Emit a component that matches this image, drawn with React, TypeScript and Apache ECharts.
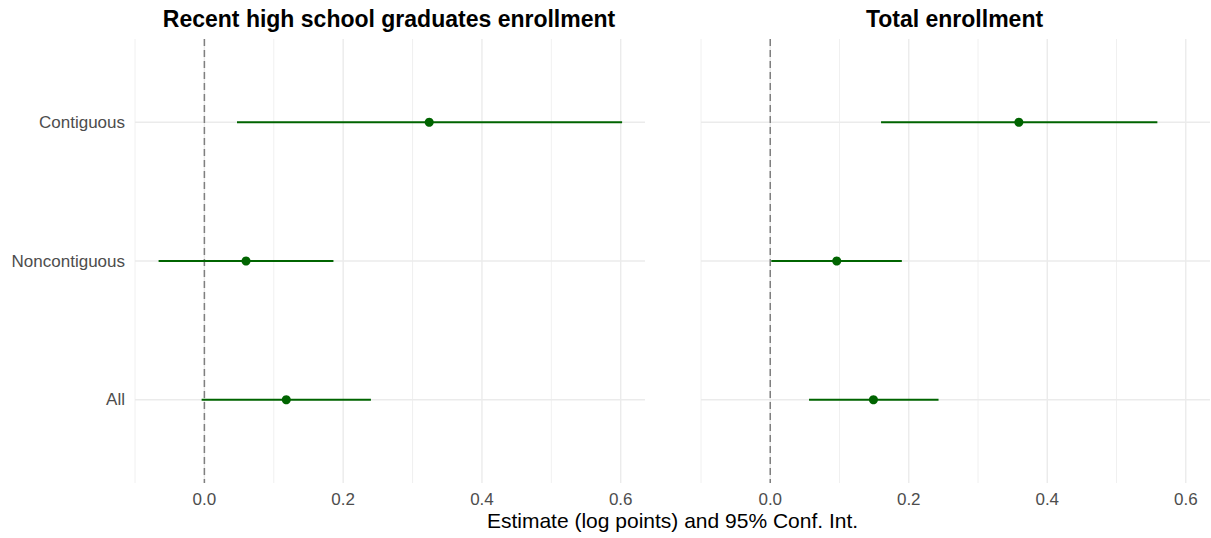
import React, { useEffect, useRef } from "react";
import * as echarts from "echarts";

const categories = ["All", "Noncontiguous", "Contiguous"];
const panelTitles = ["Recent high school graduates enrollment", "Total enrollment"];

const recentEst = [0.118, 0.06, 0.324];
const recentLow = [-0.004, -0.066, 0.047];
const recentHigh = [0.24, 0.186, 0.602];

const totalEst = [0.149, 0.096, 0.359];
const totalLow = [0.056, 0.0015, 0.16];
const totalHigh = [0.243, 0.19, 0.559];

const xMajorTicks = [0, 0.2, 0.4, 0.6];
const xMinorTicks = [-0.1, 0.1, 0.3, 0.5];
const xMin = -0.1;
const xMax = 0.635;

const FONT = "Liberation Sans";
const GREEN = "#006400";

export default function App() {
  const ref = useRef<HTMLDivElement>(null);

  useEffect(() => {
    if (!ref.current) return;
    const chart = echarts.init(ref.current, null, { renderer: "svg" });

    const grids = [
      { left: 135, top: 39, width: 510, height: 444 },
      { left: 701, top: 39, width: 509, height: 444 },
    ];
    const panels = [
      { est: recentEst, low: recentLow, high: recentHigh },
      { est: totalEst, low: totalLow, high: totalHigh },
    ];

    const xAxis = grids.map((_, i) => ({
      type: "value",
      gridIndex: i,
      min: xMin,
      max: xMax,
      splitLine: { show: false },
      axisLine: { show: false },
      axisTick: { show: false },
      axisLabel: {
        customValues: xMajorTicks,
        formatter: (v: number) => v.toFixed(1),
        fontSize: 17,
        color: "#4d4d4d",
        fontFamily: FONT,
        margin: 8,
      },
    }));

    const yAxis = grids.map((_, i) => ({
      type: "value",
      gridIndex: i,
      min: 0.4,
      max: 3.6,
      splitLine: { show: false },
      axisLine: { show: false },
      axisTick: { show: false },
      axisLabel: {
        show: i === 0,
        customValues: [1, 2, 3],
        formatter: (v: number) => categories[Math.round(v) - 1] ?? "",
        fontSize: 17,
        color: "#4d4d4d",
        fontFamily: FONT,
        margin: 10,
      },
    }));

    const series: any[] = [];
    panels.forEach((p, i) => {
      const vData = [
        ...xMajorTicks.map((v) => [v, 2, 1.4]),
        ...xMinorTicks.map((v) => [v, 2, 0.75]),
      ];
      series.push({
        type: "custom",
        xAxisIndex: i,
        yAxisIndex: i,
        silent: true,
        z: 1,
        encode: { x: 0, y: 1 },
        data: vData,
        renderItem: (params: any, api: any) => {
          const cs = params.coordSys;
          const pt = api.coord([api.value(0), api.value(1)]);
          return {
            type: "line",
            shape: { x1: pt[0], y1: cs.y, x2: pt[0], y2: cs.y + cs.height },
            style: { stroke: "#ebebeb", lineWidth: api.value(2) },
          };
        },
      });
      series.push({
        type: "custom",
        xAxisIndex: i,
        yAxisIndex: i,
        silent: true,
        z: 1,
        encode: { x: 0, y: 1 },
        data: categories.map((_, k) => [0, k + 1]),
        renderItem: (params: any, api: any) => {
          const cs = params.coordSys;
          const pt = api.coord([api.value(0), api.value(1)]);
          return {
            type: "line",
            shape: { x1: cs.x, y1: pt[1], x2: cs.x + cs.width, y2: pt[1] },
            style: { stroke: "#ebebeb", lineWidth: 1.4 },
          };
        },
      });
      series.push({
        type: "custom",
        xAxisIndex: i,
        yAxisIndex: i,
        silent: true,
        z: 2,
        encode: { x: 0, y: 1 },
        data: [[0, 2]],
        renderItem: (params: any, api: any) => {
          const cs = params.coordSys;
          const pt = api.coord([api.value(0), api.value(1)]);
          return {
            type: "line",
            shape: { x1: pt[0], y1: cs.y, x2: pt[0], y2: cs.y + cs.height },
            style: { stroke: "#7f7f7f", lineWidth: 1.5, lineDash: [7, 4] },
          };
        },
      });
      series.push({
        type: "custom",
        xAxisIndex: i,
        yAxisIndex: i,
        z: 3,
        encode: { x: [1, 2], y: 0 },
        data: categories.map((_, k) => [k + 1, p.low[k], p.high[k]]),
        renderItem: (params: any, api: any) => {
          const y = api.value(0);
          const a = api.coord([api.value(1), y]);
          const b = api.coord([api.value(2), y]);
          return {
            type: "line",
            shape: { x1: a[0], y1: a[1], x2: b[0], y2: b[1] },
            style: { stroke: GREEN, lineWidth: 2 },
          };
        },
      });
      series.push({
        type: "scatter",
        xAxisIndex: i,
        yAxisIndex: i,
        z: 4,
        symbol: "circle",
        symbolSize: 9,
        itemStyle: { color: GREEN, opacity: 1 },
        data: categories.map((_, k) => [p.est[k], k + 1]),
      });
    });

    const graphic: any[] = grids.map((g, i) => ({
      type: "text",
      x: g.left + g.width / 2 - 1,
      y: 19,
      style: {
        text: panelTitles[i],
        fontSize: 23,
        fontWeight: "bold",
        fontFamily: FONT,
        fill: "#000",
        textAlign: "center",
        textVerticalAlign: "middle",
      },
    }));
    graphic.push({
      type: "text",
      x: (grids[0].left + grids[1].left + grids[1].width) / 2,
      y: 520,
      style: {
        text: "Estimate (log points) and 95% Conf. Int.",
        fontSize: 21,
        fontFamily: FONT,
        fill: "#000",
        textAlign: "center",
        textVerticalAlign: "middle",
      },
    });

    chart.setOption({
      animation: false,
      backgroundColor: "#ffffff",
      grid: grids,
      xAxis,
      yAxis,
      series,
      graphic,
    });

    return () => chart.dispose();
  }, []);

  return (
    <div
      ref={ref}
      style={{ position: "fixed", left: 0, top: 0, width: 1211, height: 538 }}
    />
  );
}
